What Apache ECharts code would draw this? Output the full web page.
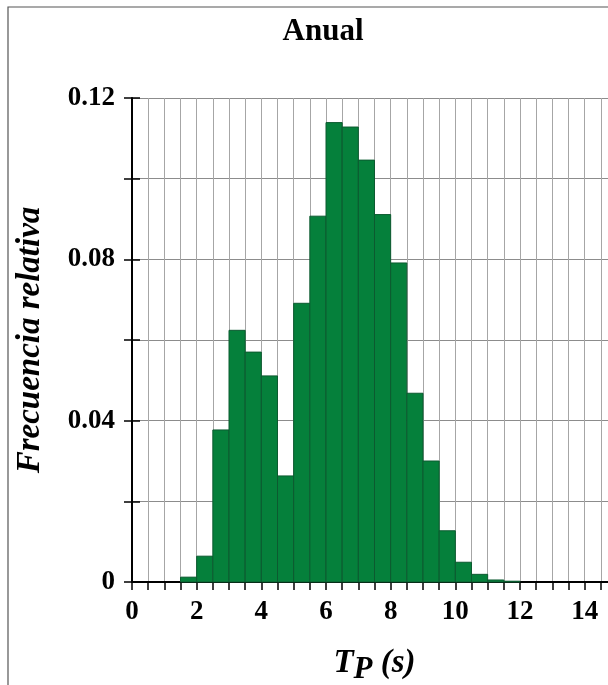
<!DOCTYPE html>
<html>
<head>
<meta charset="utf-8">
<script src="https://cdn.jsdelivr.net/npm/echarts@6/dist/echarts.min.js"></script>
<style>html,body{margin:0;padding:0;background:#fff}#c{width:608px;height:685px}</style>
</head>
<body>
<div id="c"></div>
<script>
// Bin start (s), bin width 0.5 s
var binStart = [0,0.5,1,1.5,2,2.5,3,3.5,4,4.5,5,5.5,6,6.5,7,7.5,8,8.5,9,9.5,10,10.5,11,11.5,12,12.5,13,13.5,14,14.5];
var freq     = [0,0,0,0.0012,0.0064,0.0377,0.0624,0.0570,0.0511,0.0263,0.0691,0.0907,0.1139,0.1128,0.1046,0.0911,0.0791,0.0468,0.0300,0.0127,0.0049,0.0019,0.0005,0.0002,0,0,0,0,0,0];
var binWidth = 0.5;
var xTickLabels = [0,2,4,6,8,10,12,14];
var yTickLabels = ['0','0.04','0.08','0.12'];

var FONT = '"Liberation Serif", "Times New Roman", serif';
var chart = echarts.init(document.getElementById('c'));
var data = binStart.map(function(s,i){return [s, s+binWidth, freq[i]];});
chart.setOption({
  animation:false,
  title:{text:'Anual',left:318,top:11,textAlign:'center',
    textStyle:{fontFamily:FONT,fontWeight:'bold',fontSize:31,color:'#000'}},
  grid:{left:132,top:98,width:485,height:484,containLabel:false,outerBoundsMode:'none'},
  xAxis:{type:'value',min:0,max:15,interval:0.5,
    name:'{a|T}{b|P}{a| (s)}',nameLocation:'middle',nameGap:60,
    nameTextStyle:{rich:{
      a:{fontFamily:FONT,fontWeight:'bold',fontStyle:'italic',fontSize:33,color:'#000'},
      b:{fontFamily:FONT,fontWeight:'bold',fontStyle:'italic',fontSize:31,color:'#000',padding:[12,0,0,0]}}},
    axisLine:{show:true,onZero:false,lineStyle:{color:'#000',width:2}},
    axisTick:{show:true,length:8,lineStyle:{color:'#000',width:1.5}},
    axisLabel:{margin:17,fontFamily:FONT,fontWeight:'bold',fontSize:27,color:'#000',
      formatter:function(v){return xTickLabels.indexOf(v)>=0?String(v):'';}},
    splitLine:{show:true,lineStyle:{color:'#a6a6a6',width:1}}
  },
  yAxis:[{type:'value',min:0,max:0.12,interval:0.02,
    name:'Frecuencia relativa',nameLocation:'middle',nameGap:85,
    nameTextStyle:{fontFamily:FONT,fontWeight:'bold',fontStyle:'italic',fontSize:33,color:'#000'},
    axisLine:{show:true,lineStyle:{color:'#000',width:2}},
    axisTick:{show:true,length:8,lineStyle:{color:'#000',width:1.5}},
    axisLabel:{margin:17,fontFamily:FONT,fontWeight:'bold',fontSize:27,color:'#000',
      formatter:function(v){var k=Math.round(v*100);return (k%4===0)?yTickLabels[k/4]:'';}},
    splitLine:{show:true,lineStyle:{color:'#8c8c8c',width:1}}
  },{type:'value',min:0,max:0.12,interval:0.02,position:'left',
    axisLine:{show:false},axisLabel:{show:false},splitLine:{show:false},
    axisTick:{show:true,inside:true,length:8,lineStyle:{color:'#000',width:1.5}}
  }],
  series:[{type:'custom',data:data,encode:{x:[0,1],y:2},z:3,clip:false,
    renderItem:function(params,api){
      var v=api.value(2); if(!(v>0)) return;
      var p0=api.coord([api.value(0),0]);
      var p1=api.coord([api.value(1),v]);
      return {type:'rect',shape:{x:p0[0],y:p1[1],width:p1[0]-p0[0],height:p0[1]-p1[1]},
        style:{fill:'#05803b',stroke:'#0c5a30',lineWidth:1}};
    }}],
  graphic:[{type:'rect',shape:{x:8,y:7,width:700,height:700},
    style:{fill:null,stroke:'#555',lineWidth:1.2},z:-1}]
});
</script>
</body>
</html>
